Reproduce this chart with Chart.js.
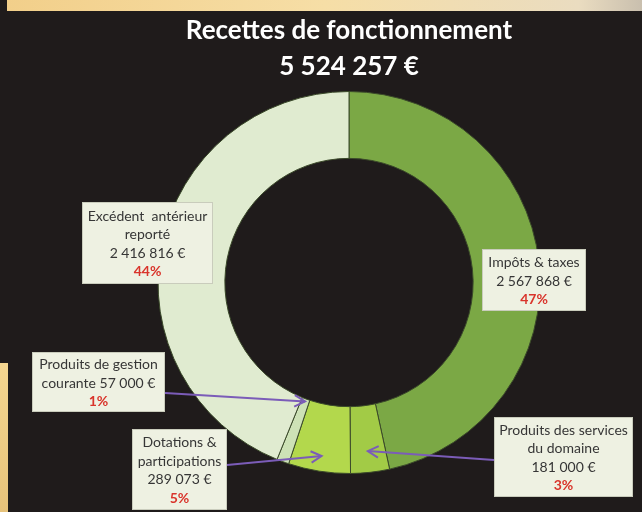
<!DOCTYPE html>
<html>
<head>
<meta charset="utf-8">
<script src="https://cdn.jsdelivr.net/npm/chart.js@4/dist/chart.umd.min.js"></script>
<style>
  html, body { margin: 0; padding: 0; }
  body { width: 642px; height: 512px; background: #1f1b1b; position: relative; overflow: hidden; }
  .photo-top { position: absolute; left: 7px; top: 0; width: 635px; height: 11px;
    background: linear-gradient(90deg, #f2cf8a, #f6dea6 50%, #eadcc0 90%, #c9bfae); }
  .photo-left { position: absolute; left: 0; top: 363px; width: 8px; height: 149px;
    background: linear-gradient(180deg, #f4d690, #e6c27a); }
  #wrap { position: absolute; left: 0; top: 0; width: 642px; height: 512px; }
</style>
</head>
<body>
<div class="photo-top"></div>
<div class="photo-left"></div>
<div id="wrap"><canvas id="chart" width="642" height="512"></canvas></div>
<script>
// data
const categories = ['Impôts & taxes', 'Produits des services du domaine', 'Dotations & participations', 'Produits de gestion courante', 'Excédent antérieur reporté'];
const amounts = [2567868, 181000, 289073, 57000, 2416816];
const percents = ['47%', '3%', '5%', '1%', '44%'];
const labelLines = [
    ['Impôts & taxes', '2 567 868 €'],
    ['Produits des services', 'du domaine', '181 000 €'],
    ['Dotations &', 'participations', '289 073 €'],
    ['Produits de gestion', 'courante 57 000 €'],
    ['Excédent  antérieur', 'reporté', '2 416 816 €']
];
const titleLines = ['Recettes de fonctionnement', '5 524 257 €'];

const sliceColors = [
    ['#6a9536', '#7ba845', '#6a9536'],
    ['#8db83a', '#a2cb46', '#8fb93c'],
    ['#98c23c', '#b3d84c', '#9ac33e'],
    ['#b4cd98', '#cde2b6', '#b8d09e'],
    ['#c9d8b4', '#e0ebd0', '#c9d8b6']
];

// label boxes: [left, top, width, height], arrows: [fromX, fromY, fraction across ring]
const boxes = [
    [482, 249, 104, 62],
    [494, 417, 139, 80],
    [132, 429, 95, 81],
    [32, 352, 133, 60],
    [82, 202, 131, 82]
];
const arrows = [
    null,
    [494, 460, 0.68],
    [227, 465, 0.77],
    [165, 393, 0.04],
    null
];

const FONT = 'Lato, "Open Sans", sans-serif';

function ringGradient(ctx, chart, i) {
    const arc = chart.getDatasetMeta(0).data[i];
    if (!arc || !arc.outerRadius) return sliceColors[i][1];
    const g = ctx.createRadialGradient(arc.x, arc.y, arc.innerRadius, arc.x, arc.y, arc.outerRadius);
    g.addColorStop(0, sliceColors[i][0]);
    g.addColorStop(0.1, sliceColors[i][1]);
    g.addColorStop(0.88, sliceColors[i][1]);
    g.addColorStop(1, sliceColors[i][2]);
    return g;
}

const labelPlugin = {
    id: 'labelBoxes',
    afterDraw(chart) {
        const ctx = chart.ctx;
        const arcs = chart.getDatasetMeta(0).data;
        ctx.save();

        // arrows
        arrows.forEach((a, i) => {
            if (!a) return;
            const arc = arcs[i];
            const mid = (arc.startAngle + arc.endAngle) / 2;
            const r = arc.innerRadius + (arc.outerRadius - arc.innerRadius) * a[2];
            const tx = arc.x + Math.cos(mid) * r;
            const ty = arc.y + Math.sin(mid) * r;
            ctx.strokeStyle = '#7b5cb8';
            ctx.lineWidth = 2;
            ctx.beginPath();
            ctx.moveTo(a[0], a[1]);
            ctx.lineTo(tx, ty);
            ctx.stroke();
            const ang = Math.atan2(ty - a[1], tx - a[0]);
            ctx.beginPath();
            ctx.moveTo(tx - 12 * Math.cos(ang - 0.5), ty - 12 * Math.sin(ang - 0.5));
            ctx.lineTo(tx, ty);
            ctx.lineTo(tx - 12 * Math.cos(ang + 0.5), ty - 12 * Math.sin(ang + 0.5));
            ctx.stroke();
        });

        // boxes
        boxes.forEach((b, i) => {
            ctx.fillStyle = '#eef1e2';
            ctx.fillRect(b[0], b[1], b[2], b[3]);
            ctx.strokeStyle = '#c9ccbc';
            ctx.lineWidth = 1;
            ctx.strokeRect(b[0] + 0.5, b[1] + 0.5, b[2] - 1, b[3] - 1);
            const lines = labelLines[i];
            const n = lines.length + 1;
            const lh = 18.5;
            const cx = b[0] + b[2] / 2;
            let y = b[1] + (b[3] - n * lh) / 2 + lh / 2 + 1;
            ctx.textAlign = 'center';
            ctx.textBaseline = 'middle';
            ctx.font = '14px ' + FONT;
            ctx.fillStyle = '#363636';
            lines.forEach(t => {
                ctx.fillText(t, cx, y);
                y += lh;
            });
            ctx.font = 'bold 14px ' + FONT;
            ctx.fillStyle = '#d9342b';
            ctx.fillText(percents[i], cx, y);
        });
        ctx.restore();
    }
};

new Chart(document.getElementById('chart'), {
    type: 'doughnut',
    data: {
        labels: categories,
        datasets: [{
            data: amounts,
            backgroundColor: (c) => ringGradient(c.chart.ctx, c.chart, c.dataIndex),
            borderColor: '#3b4a2a',
            borderWidth: 1,
            hoverOffset: 0
        }]
    },
    options: {
        responsive: false,
        animation: false,
        cutout: '65%',
        layout: { padding: { top: 0, bottom: 38, left: 157, right: 101 } },
        plugins: {
            legend: { display: false },
            tooltip: { enabled: false },
            title: {
                display: true,
                text: titleLines,
                color: '#ffffff',
                font: { family: FONT, size: 26, weight: 'bold', lineHeight: 1.385 },
                padding: { top: 13, bottom: 6 }
            }
        }
    },
    plugins: [labelPlugin]
});
</script>
</body>
</html>
